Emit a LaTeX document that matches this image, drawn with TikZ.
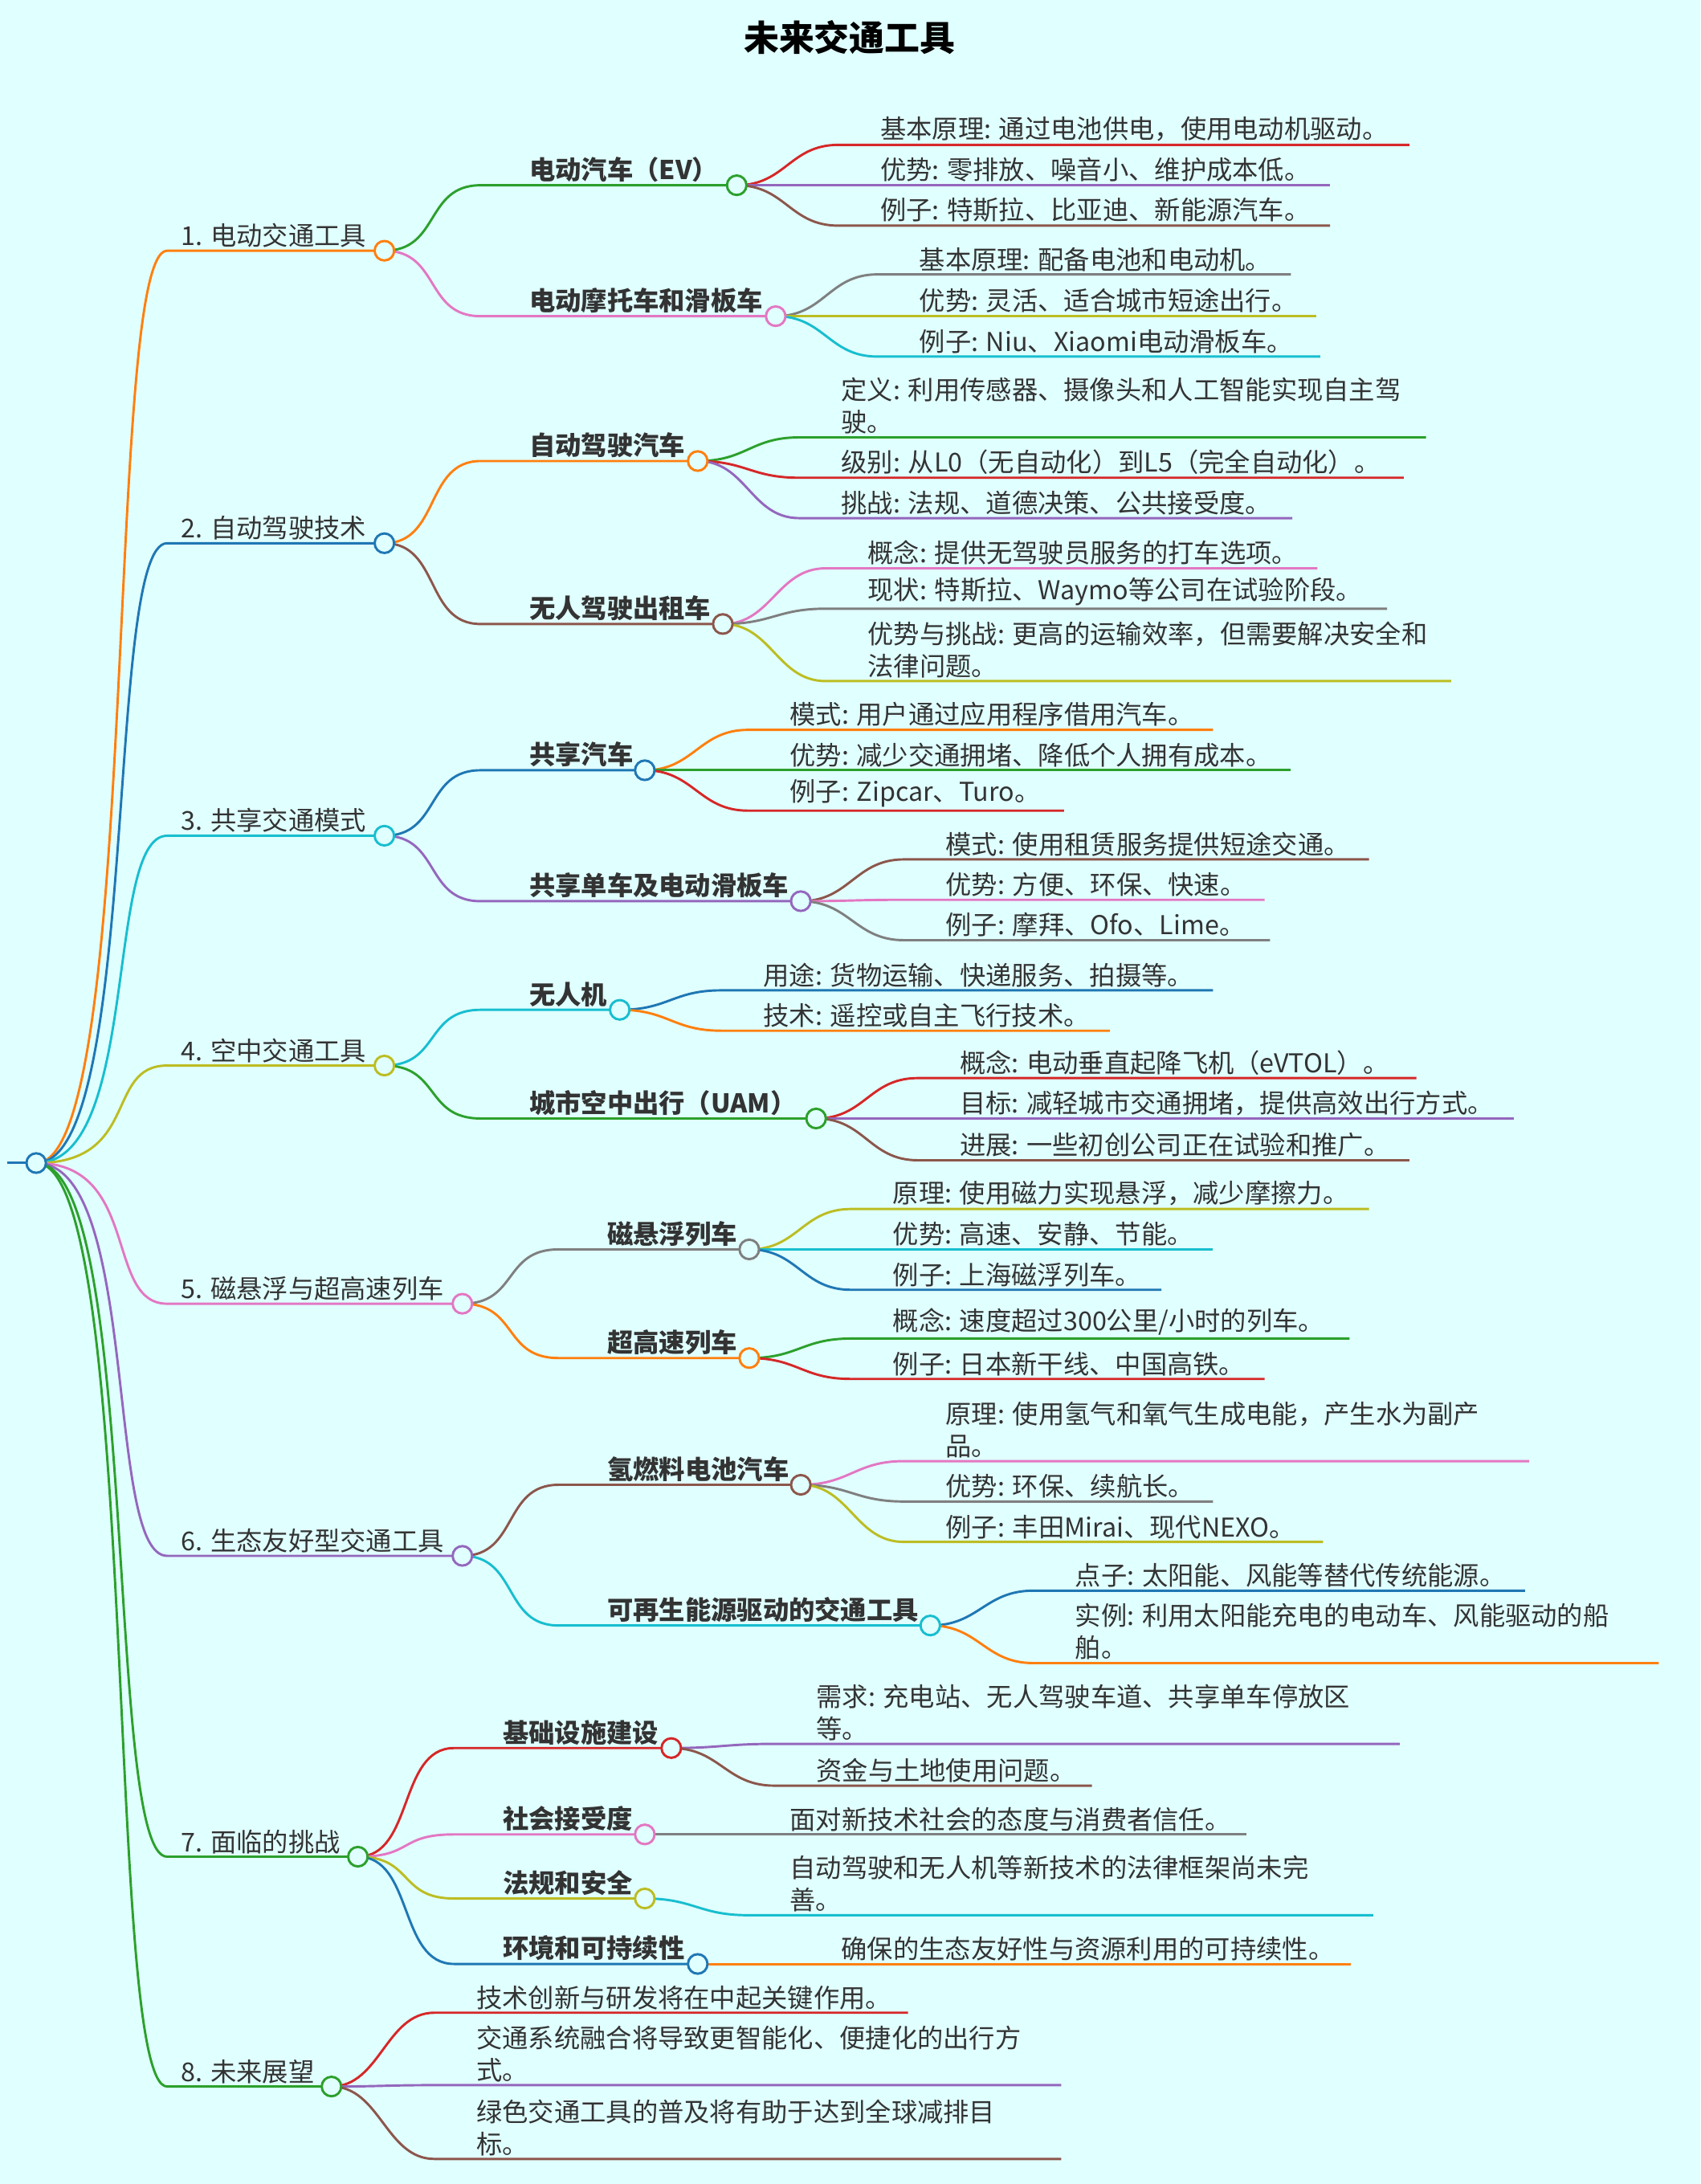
\documentclass[tikz,border=0pt]{standalone}
\usepackage{fontspec}
\setmainfont{Noto Sans CJK SC}
\usetikzlibrary{positioning}
\definecolor{bgcyan}{RGB}{224,255,255}
\definecolor{textgray}{RGB}{51,51,51}
\definecolor{myorange}{RGB}{255,127,14}
\definecolor{myblue}{RGB}{31,119,180}
\definecolor{mycyan}{RGB}{23,190,207}
\definecolor{myolive}{RGB}{188,189,34}
\definecolor{mypink}{RGB}{227,119,194}
\definecolor{mypurple}{RGB}{148,103,189}
\definecolor{mygreen}{RGB}{44,160,44}
\definecolor{myred}{RGB}{214,39,40}
\definecolor{mybrown}{RGB}{140,86,75}
\definecolor{mygray}{RGB}{127,127,127}
\tikzset{
  branch/.style={line width=2.4pt},
  leaftext/.style={anchor=south west, inner xsep=0pt, inner ysep=3pt, text=textgray, align=left, font=\fontsize{26.5}{33}\selectfont},
  midtext/.style={leaftext, font=\fontsize{26.5}{33}\selectfont\bfseries},
  dot/.style={circle, draw, line width=2.4pt, fill=bgcyan, minimum size=0.7cm, inner sep=0pt},
}
% topic: name, y, circle x, colour, text
\newcommand{\topic}[5]{%
  \coordinate (#1) at (#3,#2);
  \coordinate (#1a) at (120,#2);
  \node[leaftext] (#1t) at (130,#2) {#5};
  \draw[branch,#4] (root) .. controls +(75,0) and +(-45,0) .. (#1a) -- (#1);
}
% subtopic: name, parent, text x, y, circle x, colour, text
\newcommand{\subtopic}[7]{%
  \coordinate (#1) at (#5,#4);
  \coordinate (#1a) at (#3-35,#4);
  \node[midtext] (#1t) at (#3,#4) {#7};
  \draw[branch,#6] (#2) .. controls +(40,0) and +(-40,0) .. (#1a) -- (#1);
}
% leaf: name, parent, text x, y, end x, colour, text
\newcommand{\leaf}[7]{%
  \coordinate (#1a) at (#3-30,#4);
  \coordinate (#1b) at (#5,#4);
  \node[leaftext] (#1) at (#3,#4) {#7};
  \draw[branch,#6] (#2) .. controls +(35,0) and +(-35,0) .. (#1a) -- (#1b);
}
\begin{document}
\begin{tikzpicture}[x=0.05cm,y=-0.05cm]
  \fill[bgcyan] (0,0) rectangle (1221,1568);
  \useasboundingbox (0,0) rectangle (1221,1568);
  \node[font=\fontsize{36}{42}\selectfont\bfseries, text=black] (title) at (610,27) {未来交通工具};

  \coordinate (root) at (26,835);
  \coordinate (rootin) at (5,835);
  \draw[branch,myblue] (rootin) -- (root);

  % main topics
  \topic{t1}{180}{276}{myorange}{1. 电动交通工具}
  \topic{t2}{390}{276}{myblue}{2. 自动驾驶技术}
  \topic{t3}{600}{276}{mycyan}{3. 共享交通模式}
  \topic{t4}{765}{276}{myolive}{4. 空中交通工具}
  \topic{t5}{936}{332}{mypink}{5. 磁悬浮与超高速列车}
  \topic{t6}{1117}{332}{mypurple}{6. 生态友好型交通工具}
  \topic{t7}{1333}{257}{mygreen}{7. 面临的挑战}
  \topic{t8}{1498}{238}{mygreen}{8. 未来展望}

  % subtopics
  \subtopic{s1a}{t1}{380}{133}{529}{mygreen}{电动汽车（EV）}
  \subtopic{s1b}{t1}{380}{227}{557}{mypink}{电动摩托车和滑板车}
  \subtopic{s2a}{t2}{380}{331}{501}{myorange}{自动驾驶汽车}
  \subtopic{s2b}{t2}{380}{448}{519}{mybrown}{无人驾驶出租车}
  \subtopic{s3a}{t3}{380}{553}{463}{myblue}{共享汽车}
  \subtopic{s3b}{t3}{380}{647}{575}{mypurple}{共享单车及电动滑板车}
  \subtopic{s4a}{t4}{380}{725}{445}{mycyan}{无人机}
  \subtopic{s4b}{t4}{380}{803}{586}{mygreen}{城市空中出行（UAM）}
  \subtopic{s5a}{t5}{436}{897}{538}{mygray}{磁悬浮列车}
  \subtopic{s5b}{t5}{436}{975}{538}{myorange}{超高速列车}
  \subtopic{s6a}{t6}{436}{1066}{575}{mybrown}{氢燃料电池汽车}
  \subtopic{s6b}{t6}{436}{1167}{668}{mycyan}{可再生能源驱动的交通工具}
  \subtopic{s7a}{t7}{361}{1255}{482}{myred}{基础设施建设}
  \subtopic{s7b}{t7}{361}{1317}{463}{mypink}{社会接受度}
  \subtopic{s7c}{t7}{361}{1363}{463}{myolive}{法规和安全}
  \subtopic{s7d}{t7}{361}{1410}{501}{myblue}{环境和可持续性}

  % leaves
  \leaf{l1a1}{s1a}{632}{104}{1012}{myred}{基本原理: 通过电池供电，使用电动机驱动。}
  \leaf{l1a2}{s1a}{632}{133}{955}{mypurple}{优势: 零排放、噪音小、维护成本低。}
  \leaf{l1a3}{s1a}{632}{162}{955}{mybrown}{例子: 特斯拉、比亚迪、新能源汽车。}
  \leaf{l1b1}{s1b}{660}{197}{927}{mygray}{基本原理: 配备电池和电动机。}
  \leaf{l1b2}{s1b}{660}{227}{945}{myolive}{优势: 灵活、适合城市短途出行。}
  \leaf{l1b3}{s1b}{660}{256}{948}{mycyan}{例子: Niu、Xiaomi电动滑板车。}
  \leaf{l2a1}{s2a}{604}{314}{1024}{mygreen}{定义: 利用传感器、摄像头和人工智能实现自主驾\\驶。}
  \leaf{l2a2}{s2a}{604}{343}{1008}{myred}{级别: 从L0（无自动化）到L5（完全自动化）。}
  \leaf{l2a3}{s2a}{604}{372}{928}{mypurple}{挑战: 法规、道德决策、公共接受度。}
  \leaf{l2b1}{s2b}{623}{408}{946}{mypink}{概念: 提供无驾驶员服务的打车选项。}
  \leaf{l2b2}{s2b}{623}{437}{996}{mygray}{现状: 特斯拉、Waymo等公司在试验阶段。}
  \leaf{l2b3}{s2b}{623}{489}{1042}{myolive}{优势与挑战: 更高的运输效率，但需要解决安全和\\法律问题。}
  \leaf{l3a1}{s3a}{567}{524}{871}{myorange}{模式: 用户通过应用程序借用汽车。}
  \leaf{l3a2}{s3a}{567}{553}{927}{mygreen}{优势: 减少交通拥堵、降低个人拥有成本。}
  \leaf{l3a3}{s3a}{567}{582}{764}{myred}{例子: Zipcar、Turo。}
  \leaf{l3b1}{s3b}{679}{617}{983}{mybrown}{模式: 使用租赁服务提供短途交通。}
  \leaf{l3b2}{s3b}{679}{646}{908}{mypink}{优势: 方便、环保、快速。}
  \leaf{l3b3}{s3b}{679}{675}{912}{mygray}{例子: 摩拜、Ofo、Lime。}
  \leaf{l4a1}{s4a}{548}{711}{871}{myblue}{用途: 货物运输、快递服务、拍摄等。}
  \leaf{l4a2}{s4a}{548}{740}{797}{myorange}{技术: 遥控或自主飞行技术。}
  \leaf{l4b1}{s4b}{689}{774}{1017}{myred}{概念: 电动垂直起降飞机（eVTOL）。}
  \leaf{l4b2}{s4b}{689}{803}{1087}{mypurple}{目标: 减轻城市交通拥堵，提供高效出行方式。}
  \leaf{l4b3}{s4b}{689}{833}{1012}{mybrown}{进展: 一些初创公司正在试验和推广。}
  \leaf{l5a1}{s5a}{641}{868}{983}{myolive}{原理: 使用磁力实现悬浮，减少摩擦力。}
  \leaf{l5a2}{s5a}{641}{897}{871}{mycyan}{优势: 高速、安静、节能。}
  \leaf{l5a3}{s5a}{641}{926}{834}{myblue}{例子: 上海磁浮列车。}
  \leaf{l5b1}{s5b}{641}{961}{969}{mygreen}{概念: 速度超过300公里/小时的列车。}
  \leaf{l5b2}{s5b}{641}{990}{908}{myred}{例子: 日本新干线、中国高铁。}
  \leaf{l6a1}{s6a}{679}{1049}{1098}{mypink}{原理: 使用氢气和氧气生成电能，产生水为副产\\品。}
  \leaf{l6a2}{s6a}{679}{1078}{871}{mygray}{优势: 环保、续航长。}
  \leaf{l6a3}{s6a}{679}{1107}{950}{myolive}{例子: 丰田Mirai、现代NEXO。}
  \leaf{l6b1}{s6b}{772}{1142}{1095}{myblue}{点子: 太阳能、风能等替代传统能源。}
  \leaf{l6b2}{s6b}{772}{1194}{1191}{myorange}{实例: 利用太阳能充电的电动车、风能驱动的船\\舶。}
  \leaf{l7a1}{s7a}{586}{1252}{1005}{mypurple}{需求: 充电站、无人驾驶车道、共享单车停放区\\等。}
  \leaf{l7a2}{s7a}{586}{1282}{784}{mybrown}{资金与土地使用问题。}
  \leaf{l7b1}{s7b}{567}{1317}{895}{mygray}{面对新技术社会的态度与消费者信任。}
  \leaf{l7c1}{s7c}{567}{1375}{986}{mycyan}{自动驾驶和无人机等新技术的法律框架尚未完\\善。}
  \leaf{l7d1}{s7d}{604}{1410}{970}{myorange}{确保的生态友好性与资源利用的可持续性。}
  \leaf{l8a}{t8}{342}{1445}{652}{myred}{技术创新与研发将在中起关键作用。}
  \leaf{l8b}{t8}{342}{1497}{762}{mypurple}{交通系统融合将导致更智能化、便捷化的出行方\\式。}
  \leaf{l8c}{t8}{342}{1550}{762}{mybrown}{绿色交通工具的普及将有助于达到全球减排目\\标。}

  % circles on top
  \foreach \c/\col in {root/myblue, t1/myorange, t2/myblue, t3/mycyan, t4/myolive,
      t5/mypink, t6/mypurple, t7/mygreen, t8/mygreen,
      s1a/mygreen, s1b/mypink, s2a/myorange, s2b/mybrown, s3a/myblue, s3b/mypurple,
      s4a/mycyan, s4b/mygreen, s5a/mygray, s5b/myorange, s6a/mybrown, s6b/mycyan,
      s7a/myred, s7b/mypink, s7c/myolive, s7d/myblue}
    \node[dot, draw=\col] (\c d) at (\c) {};
\end{tikzpicture}
\end{document}
